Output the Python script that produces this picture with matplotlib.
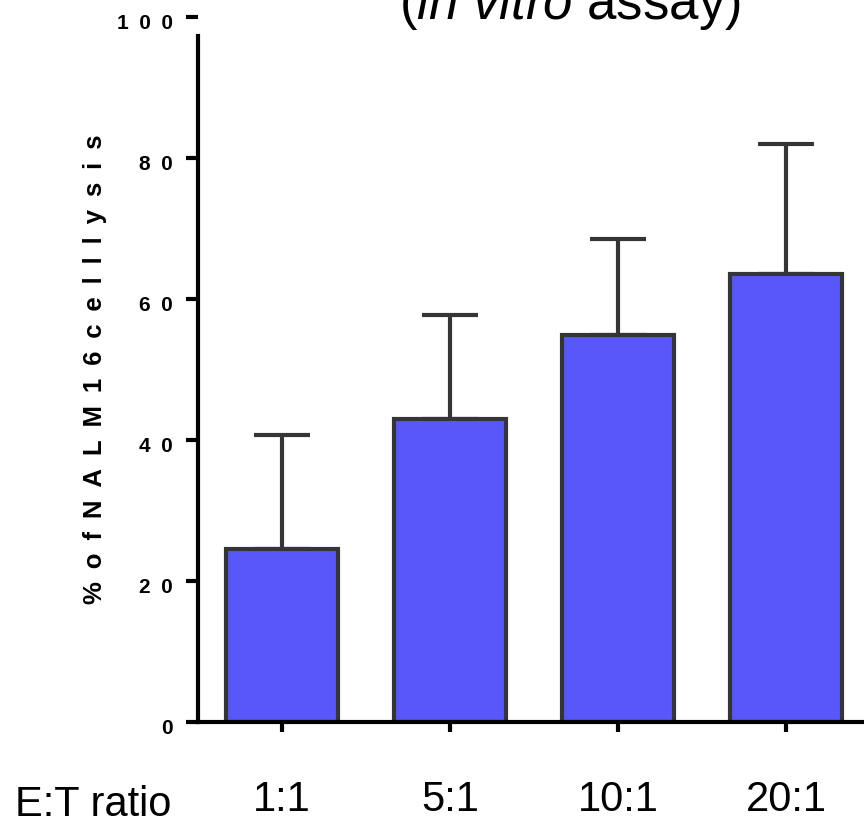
import matplotlib
matplotlib.use("Agg")
import matplotlib.pyplot as plt
import matplotlib.transforms as mtransforms
import numpy as np

plt.rcParams['font.family'] = ['Liberation Sans', 'DejaVu Sans']
plt.rcParams['mathtext.fontset'] = 'custom'
plt.rcParams['mathtext.rm'] = 'Liberation Sans'
plt.rcParams['mathtext.it'] = 'Liberation Sans:italic'

# data
ratios = ["1:1", "5:1", "10:1", "20:1"]
lysis = [24.5, 43.0, 54.9, 63.5]
sd = [16.2, 14.7, 13.6, 18.5]
yticks = [0, 20, 40, 60, 80, 100]

SP = "\u2002"  # en space, for the letter-spaced axis texts

fig = plt.figure(figsize=(8.64, 8.21), dpi=100)
ax = fig.add_axes([0.2292, 0.1206, 0.7778, 0.8587])

x = np.arange(len(ratios))
ax.bar(x, lysis, width=0.67, color='#5858fa', edgecolor='#353535', linewidth=3, zorder=2)
ax.errorbar(x, lysis, yerr=[np.zeros(len(sd)), sd], fmt='none', ecolor='#353535',
            elinewidth=3, capsize=20, capthick=3, zorder=1)

ax.set_xlim(-0.5, 3.5)
ax.set_ylim(0, 100)
ax.spines['top'].set_visible(False)
ax.spines['right'].set_visible(False)
ax.spines['left'].set_linewidth(3)
ax.spines['bottom'].set_linewidth(3)
ax.spines['left'].set_bounds(0, 97.3)

ax.set_yticks(yticks)
ax.set_yticklabels([SP.join(str(v)) for v in yticks], fontsize=15, fontweight='bold')
ax.set_xticks(x)
ax.set_xticklabels(ratios, fontsize=30)
ax.tick_params(axis='y', length=9, width=3, pad=9)
ax.tick_params(axis='x', length=7, width=3, pad=35)

# y tick labels sit a little below their ticks
offset = mtransforms.ScaledTranslation(0, -5 / 100, fig.dpi_scale_trans)
for lab in ax.get_yticklabels():
    lab.set_transform(lab.get_transform() + offset)

ax.set_ylabel(SP.join("%of") + SP + SP.join("NALM16") + SP + SP.join("cell") + SP + SP.join("lysis"),
              fontsize=18.5, fontweight='bold')
ax.yaxis.set_label_coords(-0.135, 0.5)

fig.text(15 / 864, 5 / 821, "E:T ratio", fontsize=30, ha='left', va='baseline')
fig.text(570 / 864, (821 - 19) / 821, r"($\mathit{in\ vitro}$ assay)", fontsize=38,
         ha='center', va='baseline')

fig.savefig("out.png", dpi=100)
